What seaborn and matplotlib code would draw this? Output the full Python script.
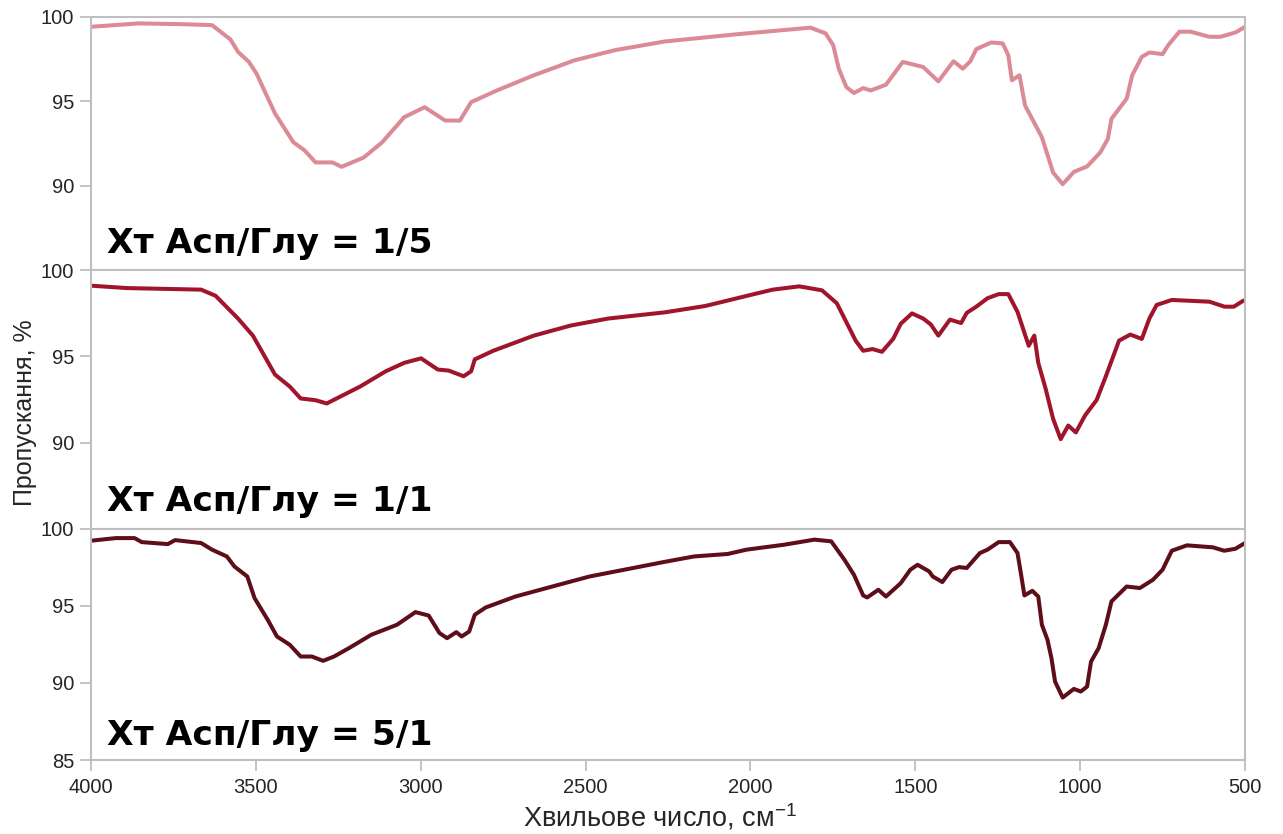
import numpy as np
import pandas as pd
import seaborn as sns
import matplotlib.pyplot as plt

sns.set_style("white")
plt.rcParams['font.family'] = ['Liberation Sans', 'DejaVu Sans']
plt.rcParams['mathtext.fontset'] = 'custom'
plt.rcParams['mathtext.rm'] = 'Liberation Sans'

# spectrum 1 (Asp/Glu = 1/5)
wn_1 = [4000, 3857, 3734, 3633, 3577, 3554, 3521, 3498, 3442, 3386, 3352, 3319, 3268, 3240,
        3173, 3117, 3050, 2988, 2926, 2881, 2847, 2769, 2657, 2533, 2410, 2260, 2046, 1818,
        1772, 1749, 1732, 1709, 1686, 1658, 1635, 1589, 1538, 1476, 1430, 1384, 1356, 1333,
        1315, 1270, 1235, 1218, 1207, 1184, 1167, 1116, 1082, 1053, 1019, 979, 939, 916, 905,
        859, 842, 813, 790, 750, 733, 699, 665, 608, 574, 528, 500]
t_1 = [99.42, 99.62, 99.58, 99.52, 98.67, 97.93, 97.34, 96.65, 94.29, 92.58, 92.1, 91.39, 91.39, 91.13,
       91.68, 92.58, 94.07, 94.66, 93.87, 93.87, 94.96, 95.65, 96.55, 97.44, 98.04, 98.55, 98.97, 99.37,
       99.03, 98.33, 96.94, 95.85, 95.5, 95.79, 95.65, 95.99, 97.34, 97.04, 96.19, 97.38, 96.94, 97.38,
       98.1, 98.49, 98.44, 97.74, 96.25, 96.55, 94.76, 92.88, 90.79, 90.1, 90.83, 91.15, 91.98, 92.78, 93.97,
       95.16, 96.55, 97.64, 97.9, 97.8, 98.33, 99.13, 99.13, 98.83, 98.83, 99.09, 99.42]

# spectrum 2 (Asp/Glu = 1/1)
wn_2 = [4000, 3891, 3666, 3622, 3554, 3509, 3442, 3397, 3364, 3319, 3285, 3251, 3184, 3106,
        3050, 2999, 2948, 2915, 2870, 2847, 2836, 2780, 2657, 2544, 2432, 2260, 2137, 1989,
        1932, 1852, 1783, 1738, 1704, 1681, 1658, 1630, 1601, 1567, 1544, 1510, 1476, 1453,
        1430, 1395, 1361, 1344, 1315, 1281, 1247, 1218, 1190, 1156, 1139, 1127, 1105, 1082,
        1059, 1036, 1013, 985, 950, 922, 882, 848, 813, 790, 768, 722, 608, 562, 534, 505]
t_2 = [99.11, 98.97, 98.88, 98.52, 97.2, 96.21, 93.95, 93.25, 92.56, 92.46, 92.27, 92.6, 93.25, 94.14,
       94.63, 94.89, 94.24, 94.18, 93.85, 94.14, 94.83, 95.33, 96.21, 96.8, 97.2, 97.56, 97.93, 98.62,
       98.88, 99.07, 98.84, 98.09, 96.8, 95.92, 95.33, 95.43, 95.27, 96.02, 96.9, 97.5, 97.2, 96.86,
       96.21, 97.14, 96.94, 97.53, 97.89, 98.38, 98.62, 98.62, 97.59, 95.62, 96.21, 94.63, 93.15, 91.38,
       90.2, 90.99, 90.59, 91.58, 92.47, 93.85, 95.92, 96.27, 96.02, 97.2, 97.99, 98.28, 98.18, 97.89, 97.89, 98.24]

# spectrum 3 (Asp/Glu = 5/1)
wn_3 = [4000, 3925, 3868, 3846, 3767, 3745, 3666, 3633, 3588, 3565, 3526, 3504, 3464, 3436,
        3397, 3364, 3330, 3296, 3263, 3218, 3150, 3072, 3016, 2976, 2943, 2920, 2892, 2876,
        2853, 2836, 2803, 2713, 2601, 2488, 2260, 2171, 2069, 2012, 1898, 1806, 1755, 1715,
        1686, 1658, 1646, 1612, 1589, 1544, 1515, 1493, 1458, 1447, 1418, 1390, 1367, 1344,
        1304, 1281, 1247, 1213, 1190, 1179, 1169, 1145, 1127, 1116, 1099, 1087, 1076, 1053,
        1019, 998, 979, 967, 944, 922, 905, 859, 819, 779, 750, 722, 676, 597, 563, 529, 500]
t_3 = [99.22, 99.39, 99.39, 99.13, 99.0, 99.26, 99.07, 98.64, 98.2, 97.55, 96.9, 95.5, 94.09, 93.01,
       92.47, 91.71, 91.71, 91.43, 91.71, 92.25, 93.12, 93.77, 94.59, 94.37, 93.23, 92.9, 93.29, 93.01,
       93.33, 94.42, 94.89, 95.6, 96.25, 96.9, 97.85, 98.2, 98.36, 98.64, 98.96, 99.29, 99.18, 97.99,
       97.01, 95.67, 95.54, 96.04, 95.6, 96.47, 97.34, 97.66, 97.23, 96.9, 96.54, 97.34, 97.51, 97.45,
       98.42, 98.64, 99.13, 99.13, 98.42, 97.01, 95.67, 95.97, 95.6, 93.77, 92.79, 91.6, 90.08, 89.05,
       89.61, 89.44, 89.76, 91.38, 92.25, 93.77, 95.28, 96.25, 96.15, 96.69, 97.34, 98.57, 98.92, 98.79,
       98.57, 98.7, 99.07]

labels = ["Хт Асп/Глу = 1/5", "Хт Асп/Глу = 1/1", "Хт Асп/Глу = 5/1"]
colors = ["#DB8B95", "#A0152B", "#5E0E19"]
series = [(wn_1, t_1), (wn_2, t_2), (wn_3, t_3)]

fig = plt.figure(figsize=(12.83, 8.34), dpi=100)
gs = fig.add_gridspec(3, 1, height_ratios=[253, 258, 231], hspace=0,
                      left=91/1283, right=1245/1283, top=1-17/834, bottom=1-760/834)

grey = "#BFBFBF"
for i, ((wn, t), lab, col) in enumerate(zip(series, labels, colors)):
    ax = fig.add_subplot(gs[i])
    df = pd.DataFrame({"wn": wn, "T": t})
    sns.lineplot(data=df, x="wn", y="T", ax=ax, color=col, linewidth=2.9, sort=False)
    ax.set_xlim(4000, 500)
    ax.set_ylim(85, 100)
    if i < 2:
        ax.set_yticks([90, 95, 100])
        ax.set_xticks([])
    else:
        ax.set_yticks([85, 90, 95, 100])
        ax.set_xticks([4000, 3500, 3000, 2500, 2000, 1500, 1000, 500])
        ax.tick_params(axis="x", length=8, width=1.3, color=grey, direction="out",
                       labelsize=14.5, pad=5, bottom=True)
    ax.tick_params(axis="y", length=8, width=1.3, color=grey, direction="out",
                   labelsize=14.5, pad=4, left=True)
    for s in ax.spines.values():
        s.set_color(grey)
        s.set_linewidth(1.5)
    ax.set_xlabel("")
    ax.set_ylabel("")
    ax.text(3952, 86.0, lab, fontsize=24.8, fontweight="bold", color="black",
            va="baseline", family=["DejaVu Sans"])

fig.text(25/1283, 1-413/834, "Пропускання, %", rotation=90, fontsize=18,
         ha="center", va="center")
fig.text(660/1283, 1-817/834, "Хвильове число, см$^{-1}$", fontsize=19.5,
         ha="center", va="center")

fig.savefig("out.png", dpi=100)
